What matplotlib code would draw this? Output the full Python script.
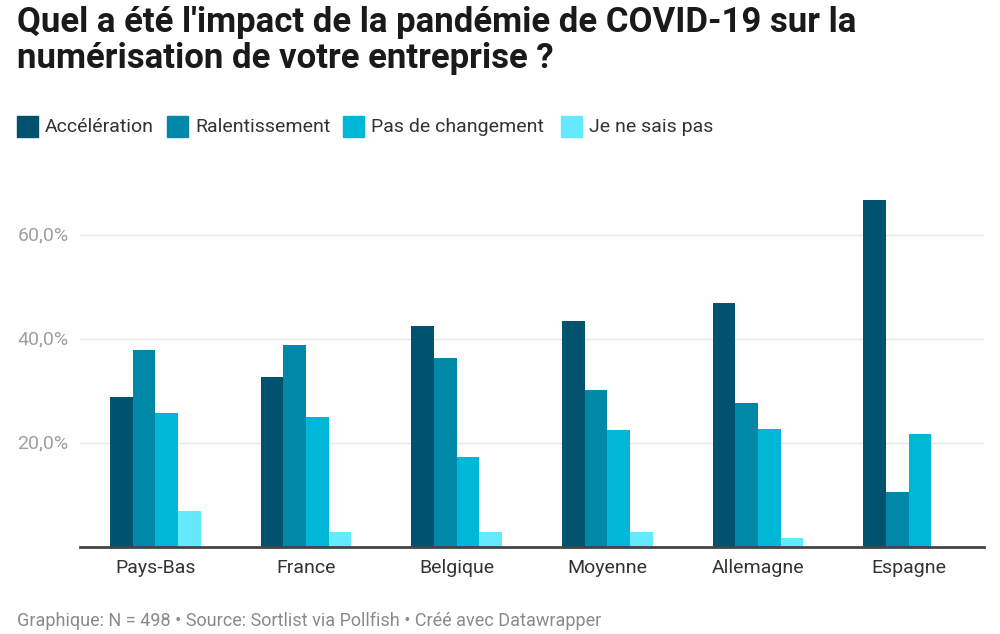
import numpy as np
import matplotlib
matplotlib.use("Agg")
import matplotlib.pyplot as plt
from matplotlib.patches import Rectangle

plt.rcParams['font.family'] = ['Roboto', 'DejaVu Sans']

pays = ['Pays-Bas', 'France', 'Belgique', 'Moyenne', 'Allemagne', 'Espagne']
series = ['Accélération', 'Ralentissement', 'Pas de changement', 'Je ne sais pas']
acceleration = [29.0, 32.7, 42.6, 43.5, 46.9, 66.7]
ralentissement = [38.0, 38.9, 36.4, 30.2, 27.8, 10.7]
pas_changement = [25.9, 25.0, 17.3, 22.5, 22.8, 21.8]
ne_sais_pas = [7.0, 3.0, 3.0, 3.0, 1.8, 0.0]
colors = ['#00526f', '#0088a8', '#00b7d8', '#64e9ff']
values = [acceleration, ralentissement, pas_changement, ne_sais_pas]

fig = plt.figure(figsize=(10, 6.34), dpi=100)
ax = fig.add_axes([0.08, 0.1365, 0.904, 0.558])

x = np.arange(len(pays))
w = 0.15
for i, (vals, c) in enumerate(zip(values, colors)):
    ax.bar(x + (i - 1.5) * w, vals, width=w, color=c, zorder=3)

ax.set_xlim(-0.5, len(pays) - 0.5)
ax.set_ylim(0, 68)
ax.set_yticks([20, 40, 60])
ax.set_yticklabels(['20,0%', '40,0%', '60,0%'])
ax.set_xticks(x)
ax.set_xticklabels(pays)
ax.grid(axis='y', color='#e6e6e6', linewidth=1, zorder=0)
for s in ['top', 'right', 'left']:
    ax.spines[s].set_visible(False)
ax.spines['bottom'].set_color('#444444')
ax.spines['bottom'].set_linewidth(2)
ax.spines['bottom'].set_zorder(4)
ax.tick_params(axis='y', length=0, labelsize=14, labelcolor='#a0a0a0', pad=45)
ax.tick_params(axis='x', length=0, labelsize=14, labelcolor='#333333', pad=8)
for lbl in ax.get_yticklabels():
    lbl.set_verticalalignment('center')
    lbl.set_horizontalalignment('left')

fig.text(0.017, 0.99, "Quel a été l'impact de la pandémie de COVID-19 sur la\nnumérisation de votre entreprise ?",
         ha='left', va='top', fontsize=25, fontweight='bold', color='#1a1a1a', linespacing=1.12)

# legend
lx = [0.017, 0.167, 0.343, 0.561]
for xx, name, c in zip(lx, series, colors):
    fig.patches.append(Rectangle((xx, 1 - 137 / 634), 0.021, 21 / 634,
                                 transform=fig.transFigure, color=c))
    fig.text(xx + 0.028, 1 - 127 / 634, name, ha='left', va='center',
             fontsize=14, color='#333333')

fig.text(0.017, 1 - 621 / 634, "Graphique: N = 498 • Source: Sortlist via Pollfish • Créé avec Datawrapper",
         ha='left', va='center', fontsize=13, color='#8a8a8a')

fig.savefig('out.png', dpi=100, facecolor='white')
